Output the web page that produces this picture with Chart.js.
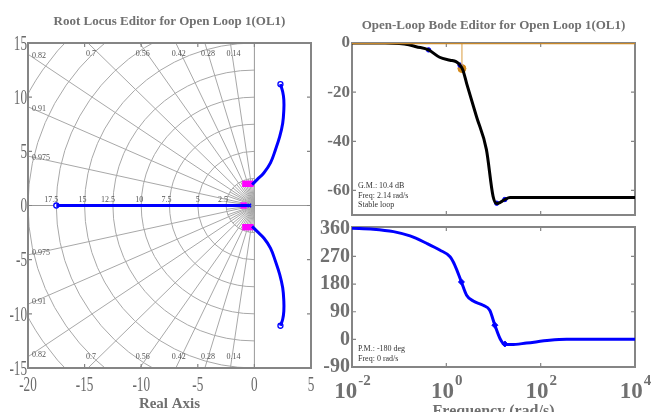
<!DOCTYPE html>
<html>
<head>
<meta charset="utf-8">
<script src="https://cdn.jsdelivr.net/npm/chart.js@4.4.1/dist/chart.umd.min.js"></script>
<style>
    html, body { margin: 0; padding: 0; background: #ffffff; overflow: hidden; }
    .box { position: absolute; }
</style>
</head>
<body>
<div class="box" style="left:0;top:0;"><canvas id="locus" width="330" height="412"></canvas></div>
<div class="box" style="left:300px;top:0;"><canvas id="mag" width="359" height="220"></canvas></div>
<div class="box" style="left:300px;top:220px;"><canvas id="phase" width="359" height="200"></canvas></div>
<script>
// 근궤적 데이터 (실수부 / 허수부)
const realBranchRe = [-17.5, -0.35];
const realBranchIm = [0, 0];
const upperRe = [-0.2, 0.24, 0.83, 1.42, 1.86, 2.24, 2.5, 2.6, 2.6, 2.5, 2.3];
const upperIm = [1.93, 2.39, 3.0, 3.93, 5.15, 6.38, 7.6, 8.83, 9.75, 10.5, 11.2];
const lowerRe = [-0.2, 0.24, 0.83, 1.42, 1.86, 2.24, 2.5, 2.6, 2.6, 2.5, 2.3];
const lowerIm = [-1.93, -2.39, -3.0, -3.93, -5.15, -6.38, -7.6, -8.83, -9.75, -10.5, -11.1];
const zeroRe = [-17.5, 2.3, 2.3];
const zeroIm = [0, 11.2, -11.1];
const poleRe = [-0.45];
const poleIm = [0];
const clPoleRe = [-0.95, -0.8, -0.35, -0.8, -0.35];
const clPoleIm = [0, 2.0, 2.0, -2.0, -2.0];

// s-평면 격자 (감쇠비 / 고유진동수)
const zetaLines = [0.14, 0.28, 0.42, 0.56, 0.7, 0.82, 0.91, 0.975];
const zetaInner = [0.07, 0.21, 0.35, 0.49, 0.63, 0.76, 0.865, 0.94, 0.99];
const wnCircles = [2.5, 5, 7.5, 10, 12.5, 15, 17.5, 20, 22.5, 25];
const wnLabels = [2.5, 5, 7.5, 10, 12.5, 15, 17.5];
const locusXTicks = [-20, -15, -10, -5, 0, 5];
const locusYTicks = [-15, -10, -5, 0, 5, 10, 15];

// 보드 선도 크기 (rad/s, dB)
const magFreq = [0.01, 0.05, 0.1, 0.16, 0.23, 0.42, 0.72, 1.2, 1.6, 1.95, 2.24, 2.69, 4.37, 7.08, 9.77, 11.7, 14.1, 17.4, 22.4, 40, 10000];
const magDb = [0, 0, -0.2, -0.7, -1.5, -2.8, -5.8, -7.0, -7.6, -9.0, -11, -16.4, -30, -43.4, -62.3, -65.3, -64.8, -63.7, -62.9, -62.9, -62.9];
const magMarkFreq = [0.42, 1.95, 11.7, 17.4];
const magMarkDb = [-2.8, -9.0, -65.2, -63.7];
const gmFreq = 2.14;
const gmDb = -10.4;
const magTicks = [-60, -40, -20, 0];

// 보드 선도 위상 (rad/s, deg)
const phaseFreq = [0.01, 0.0282, 0.0759, 0.17, 0.38, 0.724, 1.2, 1.51, 2.09, 2.69, 3.72, 6.03, 8.32, 10.7, 13.8, 17.4, 24.0, 50.1, 155, 355, 10000];
const phaseDeg = [362, 359, 351, 337, 313, 291, 269, 242, 187, 144, 125, 111, 95, 46, 2, -17, -17, -12, -3, 0, 0];
const phaseMarkFreq = [2.09, 10.7, 17.4];
const phaseMarkDeg = [187, 46, -15];
const phaseTicks = [-90, 0, 90, 180, 270, 360];
const freqTickExp = [-2, 0, 2, 4];

const GRAY = "#707070";
const toPts = (xs, ys) => xs.map((v, i) => ({ x: v, y: ys[i] }));

// 테두리와 안쪽 눈금 (데이터보다 먼저 그림)
const framePlugin = {
    id: "frame",
    beforeDatasetsDraw(chart, args, opts) {
        const { ctx, chartArea: a, scales } = chart;
        ctx.save();
        ctx.strokeStyle = "#858585";
        ctx.lineWidth = 2;
        ctx.strokeRect(a.left, a.top, a.width, a.height);
        ctx.lineWidth = 1.2;
        (opts.xTicks || []).forEach(v => {
            const px = scales.x.getPixelForValue(v);
            if (px <= a.left + 2 || px >= a.right - 2) return;
            ctx.beginPath();
            ctx.moveTo(px, a.top); ctx.lineTo(px, a.top + 4);
            ctx.moveTo(px, a.bottom); ctx.lineTo(px, a.bottom - 4);
            ctx.stroke();
        });
        (opts.yTicks || []).forEach(v => {
            const py = scales.y.getPixelForValue(v);
            if (py <= a.top + 2 || py >= a.bottom - 2) return;
            ctx.beginPath();
            ctx.moveTo(a.left, py); ctx.lineTo(a.left + 4, py);
            ctx.moveTo(a.right, py); ctx.lineTo(a.right - 4, py);
            ctx.stroke();
        });
        ctx.restore();
    }
};

function narrowText(ctx, txt, x, y, align, sx) {
    ctx.save();
    ctx.translate(x, y);
    ctx.scale(sx, 1);
    ctx.textAlign = align;
    ctx.textBaseline = "middle";
    ctx.fillText(txt, 0, 0);
    ctx.restore();
}

// 감쇠비 직선, 고유진동수 원
const sGridPlugin = {
    id: "sgrid",
    beforeDatasetsDraw(chart) {
        const { ctx, chartArea: a, scales: { x, y } } = chart;
        const ox = x.getPixelForValue(0), oy = y.getPixelForValue(0);
        const kx = x.getPixelForValue(1) - ox, ky = oy - y.getPixelForValue(1);
        ctx.save();
        ctx.beginPath();
        ctx.rect(a.left, a.top, a.width, a.height);
        ctx.clip();
        ctx.strokeStyle = "#a8a8a8";
        ctx.lineWidth = 1;
        wnCircles.forEach(r => {
            ctx.beginPath();
            ctx.ellipse(ox, oy, r * kx, r * ky, 0, Math.PI / 2, Math.PI * 1.5);
            ctx.stroke();
        });
        const ray = (z, len) => {
            const s = Math.sqrt(1 - z * z);
            [1, -1].forEach(sign => {
                ctx.beginPath();
                ctx.moveTo(ox, oy);
                ctx.lineTo(x.getPixelForValue(-len * z), y.getPixelForValue(sign * len * s));
                ctx.stroke();
            });
        };
        zetaLines.forEach(z => ray(z, 40));
        zetaInner.forEach(z => ray(z, 2.5));
        // 실수축, 허수축
        ctx.strokeStyle = "#999999";
        ctx.beginPath();
        ctx.moveTo(a.left, oy); ctx.lineTo(a.right, oy);
        ctx.moveTo(ox, a.top); ctx.lineTo(ox, a.bottom);
        ctx.stroke();

        // 격자 라벨
        ctx.fillStyle = "#555555";
        ctx.font = '8px "Liberation Sans Narrow"';
        zetaLines.forEach(z => {
            const s = Math.sqrt(1 - z * z);
            const xTop = -15 * z / s;
            if (xTop > -20) {
                const px = x.getPixelForValue(xTop);
                narrowText(ctx, String(z), px + 3, a.top + 11, "center", 1);
                narrowText(ctx, String(z), px + 3, a.bottom - 11, "center", 1);
            } else {
                const yLeft = 20 * s / z;
                narrowText(ctx, String(z), a.left + 4, y.getPixelForValue(yLeft) + 2, "left", 1);
                narrowText(ctx, String(z), a.left + 4, y.getPixelForValue(-yLeft) - 2, "left", 1);
            }
        });
        wnLabels.forEach(w => {
            narrowText(ctx, String(w), x.getPixelForValue(-w) + 2, oy - 6, "right", 1);
        });
        ctx.restore();
    },
    afterDraw(chart) {
        const { ctx, chartArea: a, scales: { x, y } } = chart;
        ctx.save();
        ctx.fillStyle = "#6a6a6a";
        ctx.font = '22px "Liberation Sans Narrow"';
        locusYTicks.forEach(v => narrowText(ctx, String(v), a.left - 1, y.getPixelForValue(v) + 1, "right", 0.6));
        locusXTicks.forEach(v => narrowText(ctx, String(v), x.getPixelForValue(v), a.bottom + 17, "center", 0.6));
        ctx.restore();
    }
};

// 보드 선도 안의 여유 주석
const notePlugin = {
    id: "notes",
    afterDatasetsDraw(chart, args, opts) {
        const { ctx, chartArea: a } = chart;
        ctx.save();
        ctx.fillStyle = "#333333";
        ctx.font = '8px "Liberation Sans Narrow"';
        (opts.lines || []).forEach((t, i) => {
            narrowText(ctx, t, a.left + 6, a.bottom - opts.offset + i * 9.5, "left", 1);
        });
        ctx.restore();
    }
};

// 10^n 형식의 주파수 눈금
const expTickPlugin = {
    id: "expTicks",
    afterDraw(chart) {
        const { ctx, scales: { x }, chartArea: a } = chart;
        ctx.save();
        ctx.fillStyle = GRAY;
        ctx.textBaseline = "alphabetic";
        ctx.textAlign = "left";
        freqTickExp.forEach(e => {
            const px = x.getPixelForValue(Math.pow(10, e));
            ctx.font = 'bold 23px "Liberation Serif"';
            const wBase = ctx.measureText("10").width;
            ctx.font = 'bold 15px "Liberation Serif"';
            const wExp = ctx.measureText(String(e)).width;
            const left = px - (wBase + wExp) / 2;
            ctx.font = 'bold 23px "Liberation Serif"';
            ctx.fillText("10", left, a.bottom + 31);
            ctx.font = 'bold 15px "Liberation Serif"';
            ctx.fillText(String(e), left + wBase + 1, a.bottom + 18);
        });
        ctx.restore();
    }
};

const noLegend = { legend: { display: false }, tooltip: { enabled: false } };

// 근궤적 편집기
new Chart(document.getElementById("locus"), {
    type: "scatter",
    data: {
        datasets: [
            { data: toPts(realBranchRe, realBranchIm), showLine: true, borderColor: "#0000ff", borderWidth: 3, pointRadius: 0 },
            { data: toPts(upperRe, upperIm), showLine: true, borderColor: "#0000ff", borderWidth: 3, pointRadius: 0, tension: 0.4 },
            { data: toPts(lowerRe, lowerIm), showLine: true, borderColor: "#0000ff", borderWidth: 3, pointRadius: 0, tension: 0.4 },
            { data: toPts(clPoleRe, clPoleIm), pointStyle: "rect", pointRadius: 4.5, backgroundColor: "#ff00ff", borderColor: "#ff00ff", borderWidth: 0 },
            { data: toPts(zeroRe, zeroIm), pointStyle: "circle", pointRadius: 2.5, backgroundColor: "#ffffff", borderColor: "#0000ff", borderWidth: 1.3 },
            { data: toPts(poleRe, poleIm), pointStyle: "crossRot", pointRadius: 2.5, borderColor: "#0000ff", borderWidth: 1.5 }
        ]
    },
    options: {
        responsive: false,
        animation: false,
        layout: { padding: { left: 0, right: 19, top: 0, bottom: 0 } },
        plugins: {
            ...noLegend,
            title: {
                display: true,
                fullSize: false,
                text: "Root Locus Editor for Open Loop 1(OL1)",
                color: GRAY,
                font: { family: "Liberation Serif", size: 13, weight: "bold" },
                padding: { top: 14, bottom: 13.4 }
            },
            frame: { xTicks: locusXTicks, yTicks: locusYTicks }
        },
        scales: {
            x: {
                type: "linear", min: -20, max: 5,
                afterBuildTicks: s => { s.ticks = locusXTicks.map(v => ({ value: v })); },
                ticks: { display: false },
                grid: { display: false },
                border: { display: false },
                title: { display: true, text: "Real Axis", color: GRAY, font: { family: "Liberation Serif", size: 15, weight: "bold", lineHeight: 1 }, padding: 0 },
                afterFit: s => { s.height = 44; }
            },
            y: {
                type: "linear", min: -15, max: 15,
                afterBuildTicks: s => { s.ticks = locusYTicks.map(v => ({ value: v })); },
                ticks: { display: false },
                grid: { display: false },
                border: { display: false },
                afterFit: s => { s.width = 28; }
            }
        }
    },
    plugins: [sGridPlugin, framePlugin]
});

const bodeY = (min, max, ticks, size) => ({
    type: "linear", min: min, max: max,
    afterBuildTicks: s => { s.ticks = ticks.map(v => ({ value: v })); },
    ticks: { color: GRAY, padding: 2, autoSkip: false, font: { family: "Liberation Serif", size: size, weight: "bold" } },
    grid: { display: false, drawTicks: false },
    border: { display: false },
    afterFit: s => { s.width = 52; s.paddingTop = 0; s.paddingBottom = 0; }
});

// 개루프 보드 선도: 크기
new Chart(document.getElementById("mag"), {
    type: "scatter",
    data: {
        datasets: [
            { data: [{ x: 0.01, y: 0 }, { x: 10000, y: 0 }], showLine: true, borderColor: "#c8882a", borderWidth: 2.5, pointRadius: 0 },
            { data: toPts(magFreq, magDb), showLine: true, borderColor: "#000000", borderWidth: 3, pointRadius: 0, cubicInterpolationMode: "monotone" },
            { data: [{ x: gmFreq, y: 0 }, { x: gmFreq, y: gmDb }], showLine: true, borderColor: "#e6bd7f", borderWidth: 1.5, pointRadius: 0 },
            { data: toPts(magMarkFreq, magMarkDb), pointRadius: 2.2, backgroundColor: "#0000ff", borderColor: "#0000ff" },
            { data: [{ x: gmFreq, y: gmDb }], pointRadius: 4, backgroundColor: "#d4891a", borderColor: "#d4891a" }
        ]
    },
    options: {
        responsive: false,
        animation: false,
        layout: { padding: { left: 0, right: 24, top: 0, bottom: 5 } },
        plugins: {
            ...noLegend,
            title: {
                display: true,
                fullSize: false,
                text: "Open-Loop Bode Editor for Open Loop 1(OL1)",
                color: GRAY,
                font: { family: "Liberation Serif", size: 13, weight: "bold" },
                padding: { top: 18, bottom: 9.4 }
            },
            frame: { xTicks: [1, 100], yTicks: magTicks },
            notes: { lines: ["G.M.: 10.4 dB", "Freq: 2.14 rad/s", "Stable loop"], offset: 29 }
        },
        scales: {
            x: { type: "logarithmic", min: 0.01, max: 10000, display: false },
            y: bodeY(-70, 0, magTicks, 17)
        }
    },
    plugins: [framePlugin, notePlugin]
});

// 개루프 보드 선도: 위상
new Chart(document.getElementById("phase"), {
    type: "scatter",
    data: {
        datasets: [
            { data: toPts(phaseFreq, phaseDeg), showLine: true, borderColor: "#0000ff", borderWidth: 3, pointRadius: 0, cubicInterpolationMode: "monotone" },
            { data: toPts(phaseMarkFreq, phaseMarkDeg), pointStyle: "rectRot", pointRadius: 3, backgroundColor: "#0000ff", borderColor: "#0000ff" }
        ]
    },
    options: {
        responsive: false,
        animation: false,
        layout: { padding: { left: 0, right: 24, top: 7, bottom: 0 } },
        plugins: {
            ...noLegend,
            frame: { xTicks: [1, 100], yTicks: phaseTicks },
            notes: { lines: ["P.M.: -180 deg", "Freq: 0 rad/s"], offset: 18 }
        },
        scales: {
            x: {
                type: "logarithmic", min: 0.01, max: 10000,
                ticks: { display: false },
                grid: { display: false },
                border: { display: false },
                title: { display: true, text: "Frequency (rad/s)", color: GRAY, font: { family: "Liberation Serif", size: 16, weight: "bold", lineHeight: 1 }, padding: 0 },
                afterFit: s => { s.height = 53; }
            },
            y: bodeY(-90, 366, phaseTicks, 20)
        }
    },
    plugins: [framePlugin, notePlugin, expTickPlugin]
});
</script>
</body>
</html>
